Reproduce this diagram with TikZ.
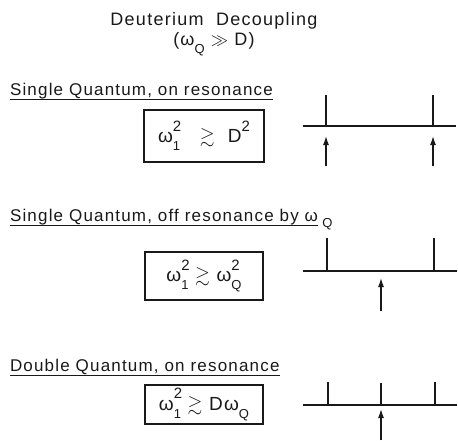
\documentclass[tikz,border=0pt]{standalone}
\usepackage{fontspec}
\setmainfont[LetterSpace=7]{Liberation Sans}
\usepackage{amssymb}
\usetikzlibrary{arrows.meta, positioning}
\definecolor{cInk}{RGB}{25,25,25}
\newcommand{\supsc}[1]{\raisebox{0.6em}{\fontsize{15}{15}\selectfont #1}}
\newcommand{\subsc}[1]{\raisebox{-0.42em}{\fontsize{13}{13}\selectfont #1}}
\newcommand{\omsub}[1]{ω\subsc{#1}}
\newcommand{\omsubsup}[2]{ω\rlap{\supsc{#2}}\subsc{#1}}
\tikzset{
  titletext/.style={align=center, inner sep=0pt, text=cInk,
                    font=\fontsize{18}{20}\selectfont},
  headtext/.style={anchor=base west, inner sep=0pt, outer sep=0pt,
                   text=cInk, font=\fontsize{17}{20}\selectfont},
  subtext/.style={anchor=base west, inner sep=0pt, text=cInk,
                  font=\fontsize{13}{15}\selectfont},
  underline/.style={draw=cInk, line width=0.9pt},
  condbox/.style={rectangle, draw=cInk, line width=1.1pt, text=cInk,
                  font=\fontsize{19}{22}\selectfont},
  baseline/.style={draw=cInk, line width=1.1pt},
  peak/.style={draw=cInk, line width=2.2pt},
  pump/.style={-{Latex[length=9pt,width=6pt]}, draw=cInk, line width=1.3pt}
}

\begin{document}
\begin{tikzpicture}[x=1pt, y=-1pt]
  \useasboundingbox (0,0) rectangle (458,440);

  % Title
  \node[titletext] (title) at (214,34)
      {Deuterium\ \ Decoupling\\(\omsub{Q} $\gg$ D)};

  % Single quantum, on resonance
  \node[headtext] (head1) at (10,95) {Single Quantum, on resonance};
  \draw[underline] ([yshift=-4pt]head1.base west) -- ([yshift=-4pt]head1.base east);
  \node[condbox, minimum width=120pt, minimum height=52pt] (cond1) at (204,136)
      {\omsubsup{1}{2}\ \ \ $\gtrsim$\ \ D\supsc{2}};

  \draw[baseline] (303,126) -- (456,126);
  \draw[peak] (326,126) -- (326,95);
  \draw[peak] (433,126) -- (433,95);
  \coordinate (p1a) at (326,166);
  \coordinate (p1b) at (433,166);
  \draw[pump] (p1a) -- ++(0,-30);
  \draw[pump] (p1b) -- ++(0,-30);

  % Single quantum, off resonance
  \node[headtext] (head2) at (10,221) {Single Quantum, off resonance by ω};
  \node[subtext] (head2q) at ([xshift=4pt, yshift=-6pt]head2.base east) {Q};
  \draw[underline] ([yshift=-4pt]head2.base west) -- ([yshift=-4pt]head2.base east);
  \node[condbox, minimum width=118pt, minimum height=48pt] (cond2) at (204,276)
      {\omsubsup{1}{2}\ $\gtrsim$\ \omsubsup{Q}{2}};

  \draw[baseline] (303,271) -- (457,271);
  \draw[peak] (327,271) -- (327,238);
  \draw[peak] (434,271) -- (434,238);
  \coordinate (p2) at (381,311);
  \draw[pump] (p2) -- ++(0,-33);

  % Double quantum, on resonance
  \node[headtext] (head3) at (10,371) {Double Quantum, on resonance};
  \draw[underline] ([yshift=-4pt]head3.base west) -- ([yshift=-4pt]head3.base east);
  \node[condbox, minimum width=118pt, minimum height=37pt] (cond3) at (204,404.5)
      {\omsubsup{1}{2}\ $\gtrsim$\ D\omsub{Q}};

  \draw[baseline] (303,405) -- (457,405);
  \draw[peak] (328,405) -- (328,382);
  \draw[peak] (381,405) -- (381,383);
  \draw[peak] (435,405) -- (435,382);
  \coordinate (p3) at (381,440);
  \draw[pump] (p3) -- ++(0,-31);

\end{tikzpicture}
\end{document}
